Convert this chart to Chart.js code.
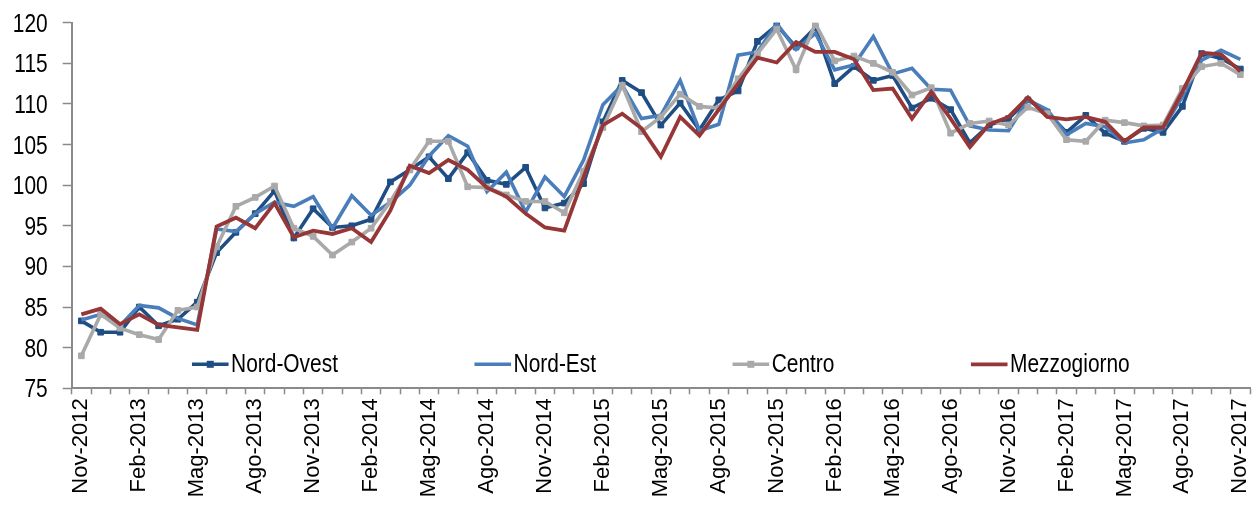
<!DOCTYPE html>
<html>
<head>
<meta charset="utf-8">
<script src="https://cdn.jsdelivr.net/npm/chart.js@4.4.1/dist/chart.umd.min.js"></script>
<style>
  html, body { margin: 0; padding: 0; background: #ffffff; }
  canvas { display: block; }
</style>
</head>
<body>
<canvas id="chart" width="1255" height="505"></canvas>
<script>
// Monthly categories, Nov-2012 .. Nov-2017
const months = [
  'Nov-2012','Dic-2012',
  'Gen-2013','Feb-2013','Mar-2013','Apr-2013','Mag-2013','Giu-2013','Lug-2013','Ago-2013','Set-2013','Ott-2013','Nov-2013','Dic-2013',
  'Gen-2014','Feb-2014','Mar-2014','Apr-2014','Mag-2014','Giu-2014','Lug-2014','Ago-2014','Set-2014','Ott-2014','Nov-2014','Dic-2014',
  'Gen-2015','Feb-2015','Mar-2015','Apr-2015','Mag-2015','Giu-2015','Lug-2015','Ago-2015','Set-2015','Ott-2015','Nov-2015','Dic-2015',
  'Gen-2016','Feb-2016','Mar-2016','Apr-2016','Mag-2016','Giu-2016','Lug-2016','Ago-2016','Set-2016','Ott-2016','Nov-2016','Dic-2016',
  'Gen-2017','Feb-2017','Mar-2017','Apr-2017','Mag-2017','Giu-2017','Lug-2017','Ago-2017','Set-2017','Ott-2017','Nov-2017'
];

// Index values by area
const nordOvest = [
  83.3, 81.9, 81.9, 85.0, 82.7, 83.5, 85.6, 91.7, 94.2, 96.5, 99.3, 93.5, 97.1,
  94.8, 95.0, 95.8, 100.4, 101.9, 103.5, 100.8, 104.0, 100.6, 100.1, 102.2, 97.2, 97.8,
  100.2, 107.8, 112.9, 111.4, 107.4, 110.1, 106.8, 110.5, 111.6, 117.7, 119.7, 117.0,
  119.4, 112.5, 114.6, 112.9, 113.5, 109.5, 110.7, 109.3, 105.2, 107.4, 108.2, 110.5,
  109.0, 106.5, 108.6, 106.4, 105.4, 107.0, 106.5, 109.7, 116.2, 115.6, 114.3
];
const nordEst = [
  83.4, 84.1, 82.7, 85.2, 84.9, 83.6, 82.8, 94.6, 94.3, 96.5, 97.9, 97.4, 98.6,
  94.7, 98.7, 96.3, 97.9, 100.0, 103.6, 106.1, 104.8, 99.2, 101.6, 96.7, 101.0, 98.6,
  103.1, 109.9, 112.3, 108.2, 108.6, 112.9, 106.7, 107.5, 116.0, 116.4, 119.9, 116.7,
  118.7, 114.2, 114.8, 118.3, 113.7, 114.4, 111.8, 111.7, 107.3, 106.8, 106.7, 110.5,
  109.3, 106.2, 107.6, 107.2, 105.2, 105.6, 107.0, 110.9, 115.4, 116.6, 115.5
];
const centro = [
  79.0, 84.1, 82.4, 81.6, 81.0, 84.6, 85.0, 92.4, 97.4, 98.5, 99.9, 94.7, 93.7,
  91.4, 93.0, 94.7, 98.0, 101.9, 105.4, 105.4, 99.8, 99.7, 98.8, 98.0, 98.0, 96.6,
  101.7, 107.1, 112.3, 106.6, 108.4, 111.2, 109.7, 109.5, 113.1, 116.2, 119.2, 114.2,
  119.9, 115.3, 115.9, 115.0, 113.9, 111.1, 112.0, 106.4, 107.6, 107.9, 107.4, 109.6,
  108.8, 105.6, 105.4, 108.0, 107.7, 107.3, 107.4, 111.9, 114.6, 115.0, 113.6
];
const mezzogiorno = [
  84.1, 84.8, 82.9, 84.1, 82.8, 82.5, 82.2, 94.9, 96.0, 94.7, 97.8, 93.6, 94.4,
  94.0, 94.7, 93.0, 96.9, 102.4, 101.5, 103.1, 101.9, 99.7, 98.6, 96.5, 94.8, 94.4,
  101.0, 107.4, 108.8, 107.0, 103.5, 108.4, 106.1, 109.3, 112.5, 115.7, 115.1, 117.6,
  116.4, 116.4, 115.5, 111.7, 111.9, 108.2, 111.5, 108.2, 104.7, 107.5, 108.4, 110.8,
  108.4, 108.1, 108.4, 107.8, 105.4, 107.1, 107.1, 111.5, 116.3, 116.1, 114.0
];

// Axis range and label spacing
const yMin = 75, yMax = 120, yStep = 5;
const labelEvery = 3;

const axisGrey = '#8a8a8a';
// Narrow lettering: Liberation Sans squeezed horizontally
const narrowFamily = "'Liberation Sans', Arial, sans-serif";
const narrowSize = 25.5;
const narrowSqueeze = 0.82;

function narrowText(ctx, text, x, y, align) {
  ctx.save();
  ctx.translate(x, y);
  ctx.scale(narrowSqueeze, 1);
  ctx.font = narrowSize + 'px ' + narrowFamily;
  ctx.textAlign = align;
  ctx.textBaseline = 'alphabetic';
  ctx.fillStyle = '#000000';
  ctx.fillText(text, 0, 0);
  ctx.restore();
}

// Value labels of the y axis, placed from the scale's own ticks
const yLabels = {
  id: 'yLabels',
  afterDraw(chart, args, opts) {
    const scale = chart.scales.y;
    const ctx = chart.ctx;
    scale.ticks.forEach(t => {
      const py = scale.getPixelForValue(t.value);
      narrowText(ctx, String(t.value), scale.right - opts.offset, py + opts.baseShift, 'right');
    });
  }
};

// Legend drawn inside the plot, along the bottom
const insideLegend = {
  id: 'insideLegend',
  afterDatasetsDraw(chart, args, opts) {
    const { ctx, chartArea } = chart;
    ctx.save();
    ctx.font = narrowSize + 'px ' + narrowFamily;
    const items = chart.data.datasets.map(ds => ({
      ds,
      w: opts.lineLength + opts.textGap + ctx.measureText(ds.label).width * narrowSqueeze
    }));
    const total = items.reduce((s, it) => s + it.w, 0) + opts.itemGap * (items.length - 1);
    let x = (chartArea.left + chartArea.right) / 2 - total / 2;
    const lineY = chartArea.bottom - opts.lineOffset;
    const baseY = chartArea.bottom - opts.baseOffset;
    items.forEach(({ ds, w }) => {
      ctx.strokeStyle = ds.borderColor;
      ctx.lineWidth = ds.borderWidth;
      ctx.lineCap = 'butt';
      ctx.beginPath();
      ctx.moveTo(x, lineY);
      ctx.lineTo(x + opts.lineLength, lineY);
      ctx.stroke();
      if (ds.pointRadius > 0) {
        const s = opts.markerSize;
        ctx.fillStyle = ds.pointBackgroundColor;
        ctx.fillRect(x + opts.lineLength / 2 - s / 2, lineY - s / 2, s, s);
      }
      narrowText(ctx, ds.label, x + opts.lineLength + opts.textGap, baseY, 'left');
      x += w + opts.itemGap;
    });
    ctx.restore();
  }
};

function series(label, data, color, width, markers, order) {
  return {
    label, data, order,
    borderColor: color,
    backgroundColor: color,
    borderWidth: width,
    pointStyle: 'rect',
    pointRadius: markers ? 4 : 0,
    pointBackgroundColor: color,
    pointBorderColor: color,
    pointBorderWidth: 1,
    tension: 0,
    fill: false
  };
}

new Chart(document.getElementById('chart'), {
  type: 'line',
  data: {
    labels: months,
    datasets: [
      series('Nord-Ovest', nordOvest, '#1f4e84', 3.6, true, 4),
      series('Nord-Est', nordEst, '#4a7ebb', 3.6, false, 3),
      series('Centro', centro, '#a9a9a9', 3.6, true, 2),
      series('Mezzogiorno', mezzogiorno, '#973636', 3.8, false, 1)
    ]
  },
  options: {
    responsive: false,
    animation: false,
    events: [],
    layout: { padding: { top: 22.7, right: 1, bottom: 0, left: 0 } },
    plugins: {
      legend: { display: false },
      tooltip: { enabled: false },
      yLabels: { offset: 24, baseShift: 9 },
      insideLegend: {
        lineLength: 36.6,
        textGap: 2.5,
        itemGap: 136.5,
        markerSize: 7,
        lineOffset: 24,
        baseOffset: 16.6
      }
    },
    scales: {
      x: {
        type: 'category',
        offset: true,
        border: { display: true, color: axisGrey, width: 2 },
        grid: {
          offset: true,
          drawOnChartArea: false,
          drawTicks: true,
          tickLength: 6,
          tickWidth: 1.5,
          tickColor: axisGrey
        },
        ticks: {
          autoSkip: false,
          maxRotation: 90,
          minRotation: 90,
          padding: 4,
          color: '#000000',
          font: { family: "'Liberation Sans', Arial, sans-serif", size: 22 },
          callback: function (value, index) {
            return index % labelEvery === 0 ? this.getLabelForValue(value) : '';
          }
        },
        afterFit(scale) {
          scale.height = 116.7;
          scale.paddingLeft = 0;
          scale.paddingRight = 0;
        }
      },
      y: {
        min: yMin,
        max: yMax,
        border: { display: true, color: axisGrey, width: 2 },
        grid: {
          drawOnChartArea: false,
          drawTicks: true,
          tickLength: 9,
          tickWidth: 1.5,
          tickColor: axisGrey
        },
        ticks: {
          stepSize: yStep,
          display: false
        },
        afterFit(scale) {
          scale.width = 71.7;
          scale.paddingTop = 0;
          scale.paddingBottom = 0;
        }
      }
    }
  },
  plugins: [yLabels, insideLegend]
});
</script>
</body>
</html>
